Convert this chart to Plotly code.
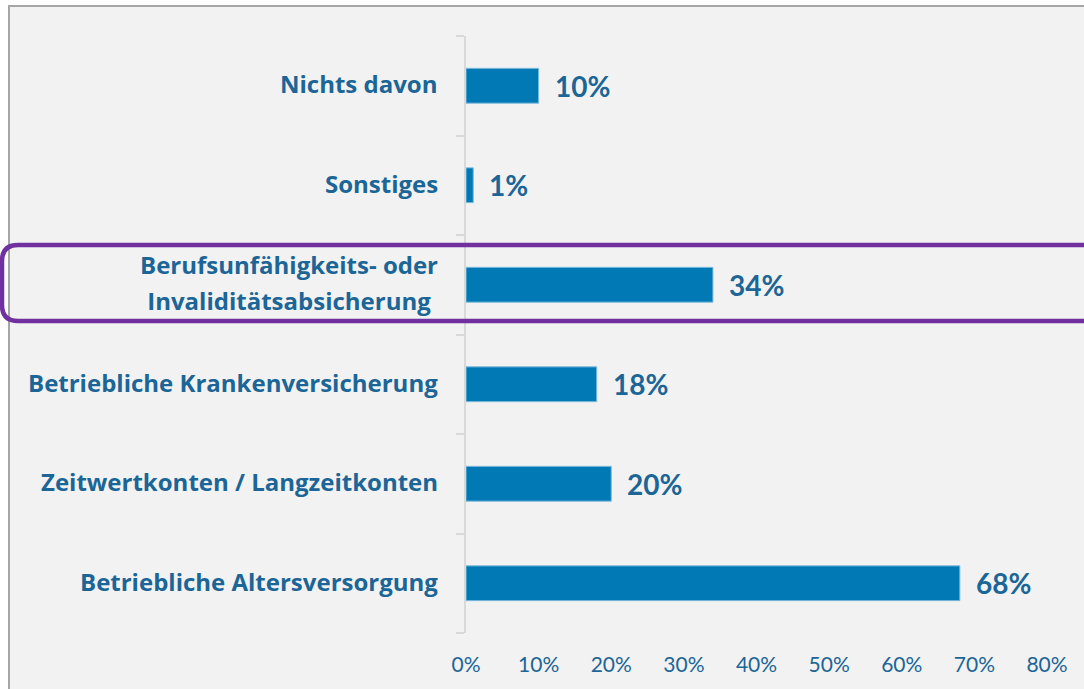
import plotly.graph_objects as go

categories = [
    "Nichts davon",
    "Sonstiges",
    "Berufsunfähigkeits- oder<br>Invaliditätsabsicherung",
    "Betriebliche Krankenversicherung",
    "Zeitwertkonten / Langzeitkonten",
    "Betriebliche Altersversorgung",
]
values = [0.10, 0.01, 0.34, 0.18, 0.20, 0.68]
x_ticks = [0, 0.1, 0.2, 0.3, 0.4, 0.5, 0.6, 0.7, 0.8]
x_ticklabels = ["0%", "10%", "20%", "30%", "40%", "50%", "60%", "70%", "80%"]

W, H = 1084, 689
L, R, T, B = 466, 37, 36, 56
PW, PH = W - L - R, H - T - B

def px_x(px):
    return (px - L) / PW

def px_y(py):
    return (H - B - py) / PH

BAR = "#0079b5"
TXT = "#1b6597"
FONT = "Lato"
LABEL_FONT = "Open Sans"

fig = go.Figure()
fig.add_trace(go.Bar(
    x=values, y=list(range(len(categories))), orientation="h",
    width=0.35,
    marker=dict(color=BAR, line=dict(color="#7fbcdc", width=1)),
    hoverinfo="skip",
))

annotations = []
for i, (c, v) in enumerate(zip(categories, values)):
    lines = c.split("<br>")
    txt = "<br>".join('<span style="font-size:24px"><b>%s</b></span>' % s for s in lines)
    annotations.append(dict(
        x=0, xref="paper", y=i, yref="y", text=txt,
        xanchor="right", yanchor="middle", align="center", showarrow=False,
        xshift=-26, yshift=2, font=dict(family=LABEL_FONT, size=28, color=TXT),
    ))
    annotations.append(dict(
        x=v, xref="x", y=i, yref="y", text="<b>%d%%</b>" % round(v * 100),
        xanchor="left", yanchor="middle", showarrow=False,
        xshift=14, yshift=0, font=dict(family=FONT, size=28, color=TXT),
    ))

# background panel with gray border
shapes = [
    dict(type="rect", xref="paper", yref="paper",
         x0=px_x(9), x1=px_x(W + 20), y0=px_y(H + 20), y1=px_y(6),
         fillcolor="#f2f2f2", line=dict(color="#a6a6a6", width=2), layer="below"),
]
# purple rounded highlight frame
x0, x1 = px_x(2), px_x(W + 20)
yt, yb = px_y(245), px_y(321)
rx, ry = 16 / PW, 16 / PH
path = (
    f"M {x1},{yt} L {x0 + rx},{yt} Q {x0},{yt} {x0},{yt - ry} "
    f"L {x0},{yb + ry} Q {x0},{yb} {x0 + rx},{yb} L {x1},{yb}"
)
shapes.append(dict(type="path", xref="paper", yref="paper", path=path,
                   line=dict(color="#7030a0", width=4.5), layer="above"))

fig.update_layout(
    width=W, height=H,
    margin=dict(l=L, r=R, t=T, b=B),
    paper_bgcolor="white",
    plot_bgcolor="rgba(0,0,0,0)",
    showlegend=False,
    annotations=annotations,
    shapes=shapes,
    xaxis=dict(
        range=[0, 0.8], tickvals=x_ticks, ticktext=x_ticklabels,
        showgrid=False, zeroline=False, showline=False, ticks="",
        tickfont=dict(family=FONT, size=21, color=TXT),
        ticklabelstandoff=17, fixedrange=True,
    ),
    yaxis=dict(
        range=[len(categories) - 0.5, -0.5],
        tickvals=[i - 0.5 for i in range(len(categories) + 1)],
        showticklabels=False,
        showgrid=False, zeroline=False,
        showline=True, linecolor="#d9d9d9", linewidth=2,
        ticks="outside", ticklen=8, tickcolor="#d9d9d9", tickwidth=2,
        fixedrange=True,
    ),
)

fig.write_html("out.html")
